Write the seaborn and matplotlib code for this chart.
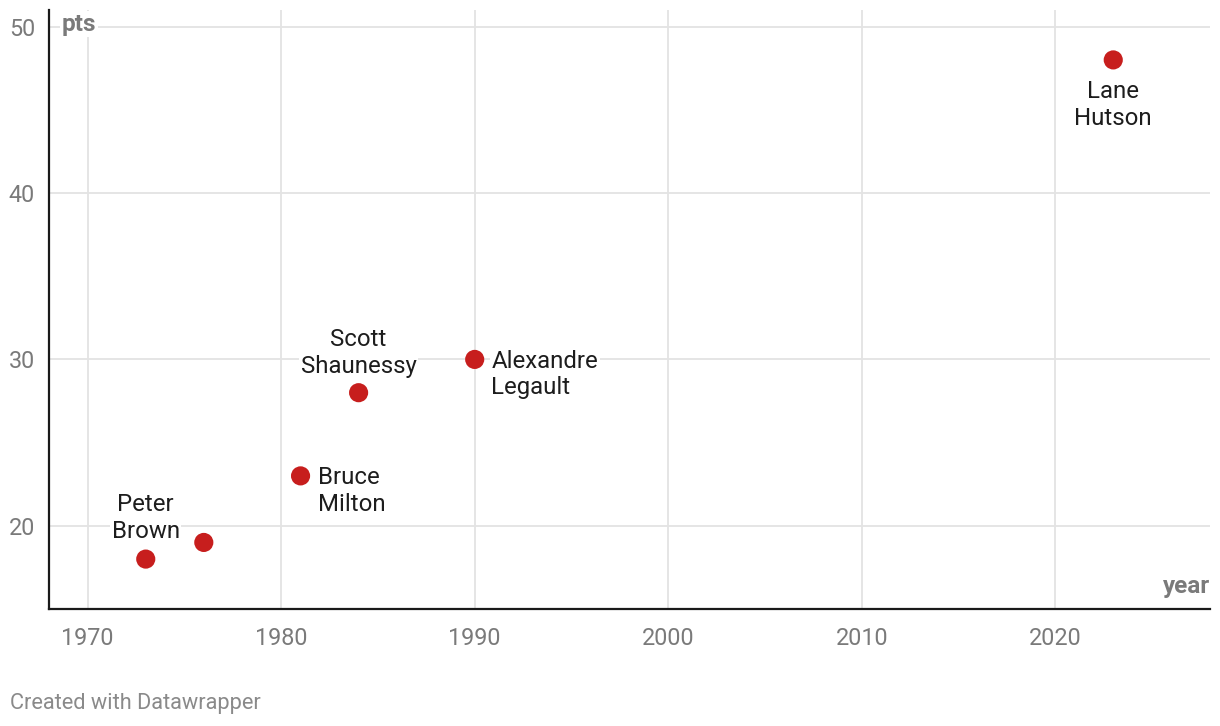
import matplotlib
matplotlib.use("Agg")
import matplotlib.pyplot as plt
import seaborn as sns
import pandas as pd

years = [1973, 1976, 1981, 1984, 1990, 2023]
points = [18, 19, 23, 28, 30, 48]
names = ["Peter\nBrown", "", "Bruce\nMilton", "Scott\nShaunessy", "Alexandre\nLegault", "Lane\nHutson"]
x_ticks = [1970, 1980, 1990, 2000, 2010, 2020]
y_ticks = [20, 30, 40, 50]

df = pd.DataFrame({"year": years, "pts": points, "name": names})

sns.set_style("white")
plt.rcParams["font.family"] = ["Roboto", "DejaVu Sans"]

fig = plt.figure(figsize=(12.2, 7.26), dpi=100)
ax = fig.add_axes([49 / 1220, 1 - 609 / 726, (1210 - 49) / 1220, (609 - 10) / 726])

ax.set_xlim(1968, 2028)
ax.set_ylim(15, 51)
ax.set_xticks(x_ticks)
ax.set_yticks(y_ticks)
ax.grid(True, color="#e3e3e3", linewidth=1.3, zorder=0)
ax.set_axisbelow(True)

sns.scatterplot(data=df, x="year", y="pts", ax=ax, color="#c71e1d", s=190,
                edgecolor="none", zorder=3, legend=False)

for s in ["top", "right"]:
    ax.spines[s].set_visible(False)
for s in ["left", "bottom"]:
    ax.spines[s].set_color("#1a1a1a")
    ax.spines[s].set_linewidth(1.6)

ax.tick_params(axis="both", length=0, labelsize=16.8, labelcolor="#7a7a7a")
ax.tick_params(axis="x", pad=13)
ax.tick_params(axis="y", pad=10)
ax.set_xlabel("")
ax.set_ylabel("")

# label placement: (dx, dy) in points, ha
place = {
    "Peter\nBrown": (0, 29.5, "center"),
    "Bruce\nMilton": (12.5, -11, "left"),
    "Scott\nShaunessy": (0, 28.5, "center"),
    "Alexandre\nLegault": (12, -11, "left"),
    "Lane\nHutson": (0, -32.5, "center"),
}
for x, y, n in zip(years, points, names):
    if not n:
        continue
    dx, dy, ha = place[n]
    ax.annotate(n, (x, y), xytext=(dx, dy), textcoords="offset points",
                ha=ha, va="center", fontsize=17.3, color="#1d1d1d",
                linespacing=1.2, zorder=4,
                bbox=dict(facecolor="white", edgecolor="none", pad=1.0))

ax.text(0.011, 0.976, "pts", transform=ax.transAxes, ha="left", va="center",
        fontsize=17.5, fontweight="bold", color="#7a7a7a",
        bbox=dict(facecolor="white", edgecolor="none", pad=1.0), zorder=4)
ax.text(1.0, 0.037, "year", transform=ax.transAxes, ha="right", va="center",
        fontsize=17.5, fontweight="bold", color="#7a7a7a",
        bbox=dict(facecolor="white", edgecolor="none", pad=1.0), zorder=4)

fig.text(10 / 1220, 1 - 703 / 726, "Created with Datawrapper", ha="left", va="center",
         fontsize=15.7, color="#8a8a8a")

fig.savefig("out.png", dpi=100, facecolor="white")
